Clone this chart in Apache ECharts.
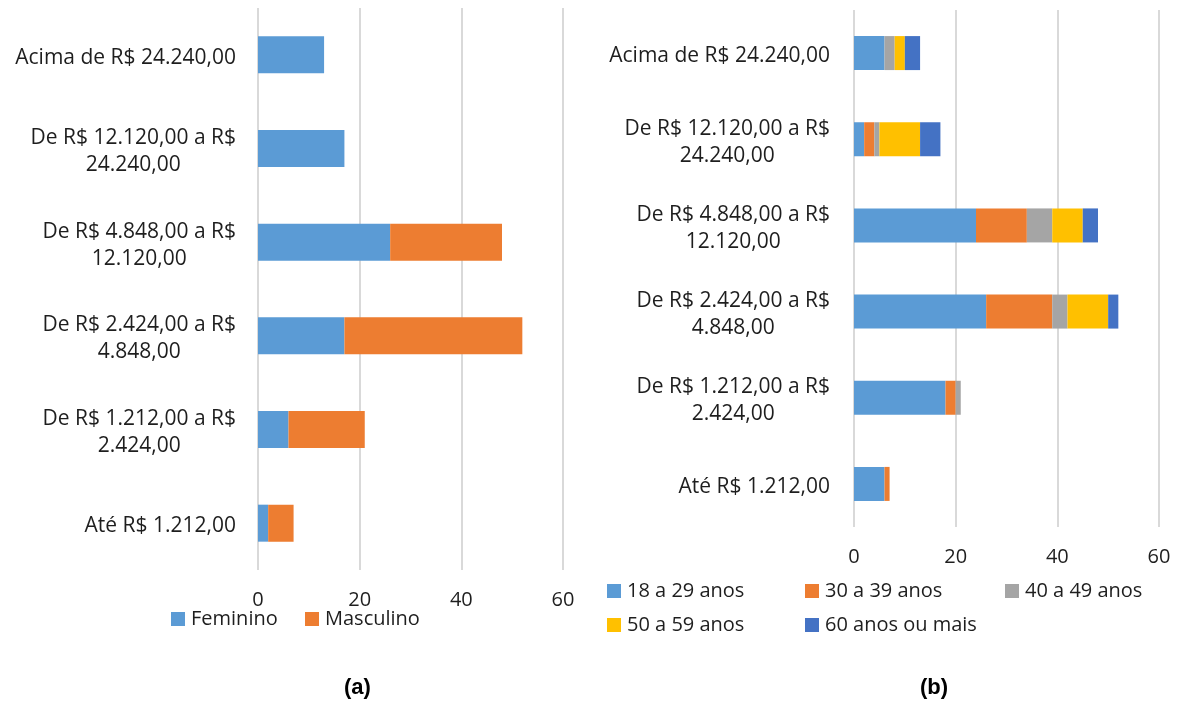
<!DOCTYPE html>
<html>
<head>
<meta charset="utf-8">
<script src="https://cdn.jsdelivr.net/npm/echarts@6/dist/echarts.min.js"></script>
<style>
  html, body { margin: 0; padding: 0; background: #fff; }
  #chart { width: 1179px; height: 711px; }
</style>
</head>
<body>
<div id="chart"></div>
<script>
// Income brackets, bottom to top (a line break marks where a label wraps)
const categories = [
  'Até R$ 1.212,00',
  'De R$ 1.212,00 a R$\n2.424,00',
  'De R$ 2.424,00 a R$\n4.848,00',
  'De R$ 4.848,00 a R$\n12.120,00',
  'De R$ 12.120,00 a R$\n24.240,00',
  'Acima de R$ 24.240,00'
];

// (a) by sex
const feminino  = [2, 6, 17, 26, 17, 13];
const masculino = [5, 15, 35, 22, 0, 0];

// (b) by age group
const idade18a29 = [6, 18, 26, 24, 2, 6];
const idade30a39 = [1, 2, 13, 10, 2, 0];
const idade40a49 = [0, 1, 3, 5, 1, 2];
const idade50a59 = [0, 0, 8, 6, 8, 2];
const idade60mais = [0, 0, 2, 3, 4, 3];

const xTicks = { min: 0, max: 60, interval: 20 };

const FONT = '"Open Sans", "Noto Sans", sans-serif';
const TEXT = '#1e1e1e';
const GRID_LINE = '#d9d9d9';

function categoryLabel(value) {
  return value.split('\n').map(line => '{c|' + line + '}').join('\n');
}

function valueAxis(gridIndex) {
  return {
    type: 'value',
    gridIndex: gridIndex,
    min: xTicks.min, max: xTicks.max, interval: xTicks.interval,
    axisLine: { show: false },
    axisTick: { show: false },
    axisLabel: { color: TEXT, fontSize: 20, fontFamily: FONT, margin: 20 },
    splitLine: { show: true, lineStyle: { color: GRID_LINE, width: 2 } }
  };
}

function categoryAxis(gridIndex, margin) {
  return {
    type: 'category',
    gridIndex: gridIndex,
    data: categories,
    axisLine: { show: false },
    axisTick: { show: false },
    axisLabel: {
      margin: margin,
      align: 'right',
      padding: [6, 0, 0, 0],
      formatter: categoryLabel,
      rich: {
        c: { align: 'center', fontSize: 21, lineHeight: 27, fontFamily: FONT, color: TEXT }
      }
    }
  };
}

function barSeries(name, data, color, axisIndex, width) {
  return {
    name: name,
    type: 'bar',
    stack: 'total' + axisIndex,
    xAxisIndex: axisIndex,
    yAxisIndex: axisIndex,
    data: data,
    barWidth: width,
    itemStyle: { color: color },
    emphasis: { disabled: true }
  };
}

function legendItem(name, left, centerY) {
  return {
    data: [name],
    left: left,
    top: centerY - 11,
    padding: 0,
    itemWidth: 14,
    itemHeight: 14,
    icon: 'rect',
    textStyle: { fontSize: 20, fontFamily: FONT, color: TEXT, padding: [0, 0, 0, 1] }
  };
}

const chart = echarts.init(document.getElementById('chart'), null, { renderer: 'canvas' });

chart.setOption({
  animation: false,
  backgroundColor: '#fff',
  grid: [
    { left: 258, width: 305, top: 8, height: 562 },
    { left: 854, width: 305, top: 10, height: 517 }
  ],
  xAxis: [valueAxis(0), valueAxis(1)],
  yAxis: [categoryAxis(0, 22), categoryAxis(1, 24)],
  legend: [
    legendItem('Feminino', 171, 620),
    legendItem('Masculino', 305, 620),
    legendItem('18 a 29 anos', 607, 592),
    legendItem('30 a 39 anos', 805, 592),
    legendItem('40 a 49 anos', 1005, 592),
    legendItem('50 a 59 anos', 607, 626),
    legendItem('60 anos ou mais', 805, 626)
  ],
  series: [
    barSeries('Feminino', feminino, '#5B9BD5', 0, 37),
    barSeries('Masculino', masculino, '#ED7D31', 0, 37),
    barSeries('18 a 29 anos', idade18a29, '#5B9BD5', 1, 34),
    barSeries('30 a 39 anos', idade30a39, '#ED7D31', 1, 34),
    barSeries('40 a 49 anos', idade40a49, '#A5A5A5', 1, 34),
    barSeries('50 a 59 anos', idade50a59, '#FFC000', 1, 34),
    barSeries('60 anos ou mais', idade60mais, '#4472C4', 1, 34)
  ],
  graphic: [
    {
      type: 'text', left: 344, top: 677,
      style: { text: '(a)', font: 'bold 22px "Liberation Sans", Arial, sans-serif', fill: '#000' }
    },
    {
      type: 'text', left: 920, top: 677,
      style: { text: '(b)', font: 'bold 22px "Liberation Sans", Arial, sans-serif', fill: '#000' }
    }
  ]
});
</script>
</body>
</html>
